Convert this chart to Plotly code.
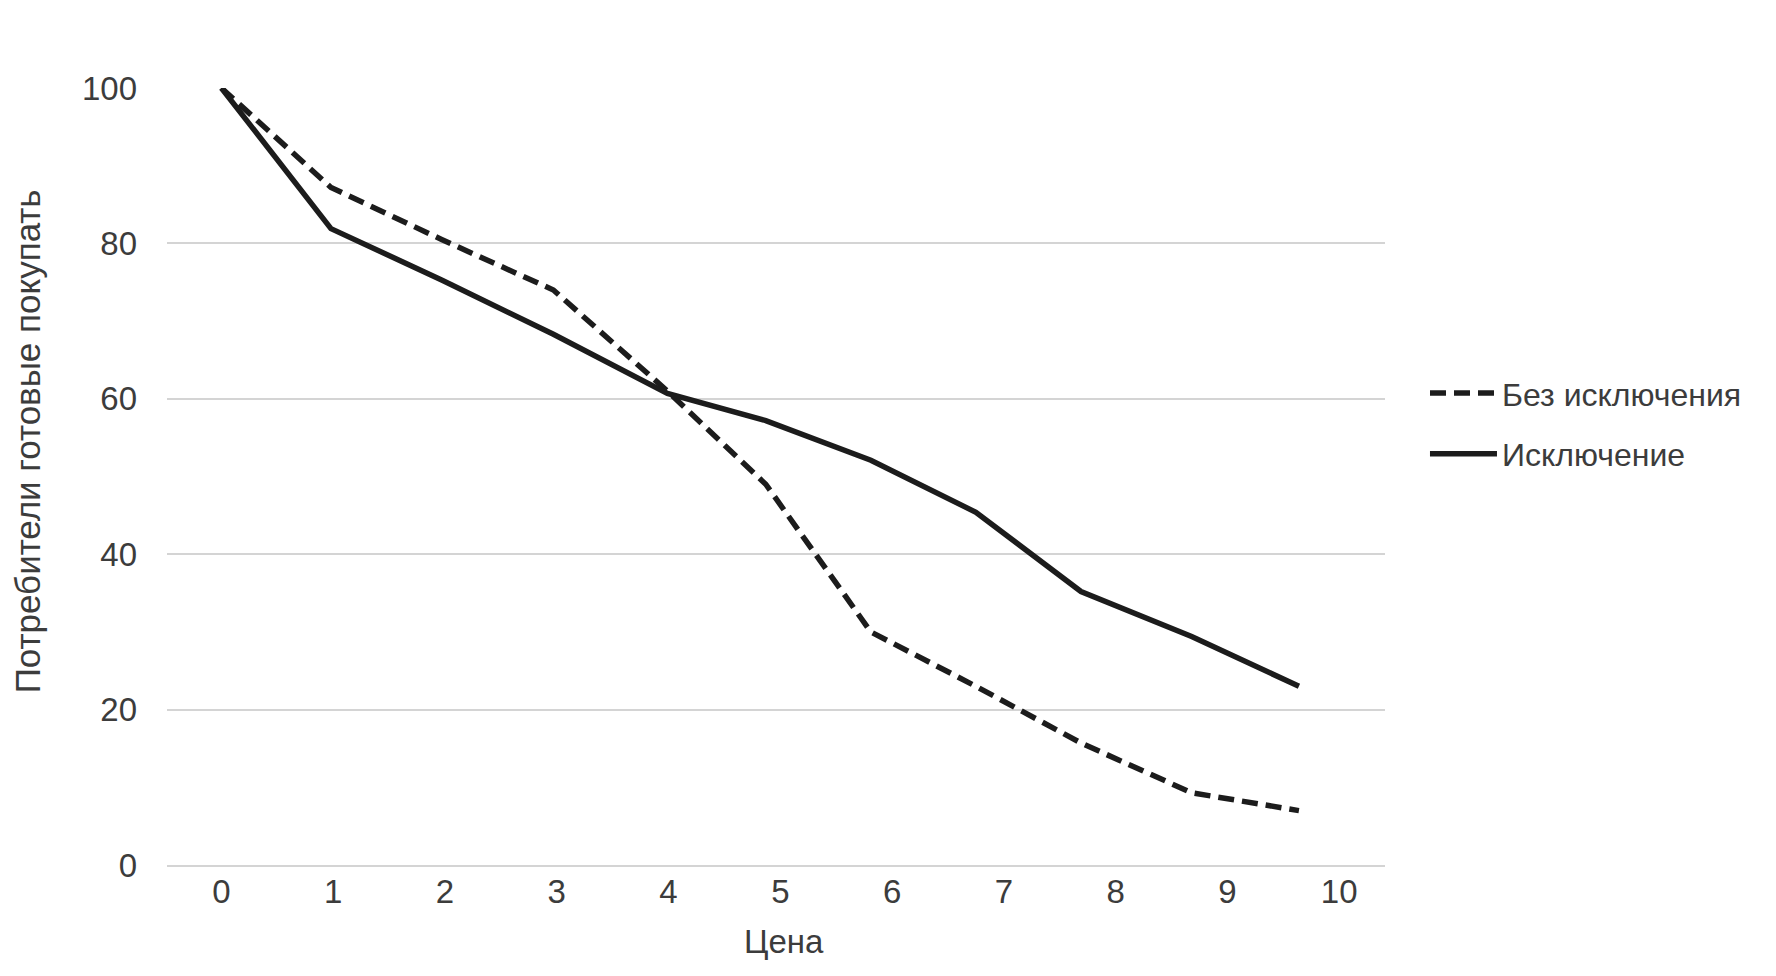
import plotly.graph_objects as go

# Data
price = [0, 0.98, 1.97, 2.97, 3.99, 4.87, 5.81, 6.75, 7.69, 8.68, 9.64]
bez_iskl = [100, 87.2, 80.5, 74.0, 61.0, 49.0, 30.0, 23.0, 15.7, 9.3, 7.0]
iskl = [100, 81.9, 75.3, 68.3, 60.7, 57.2, 52.1, 45.4, 35.2, 29.4, 23.0]
x_ticks = list(range(0, 11))
y_ticks = [0, 20, 40, 60, 80, 100]

series_names = ["Без исключения", "Исключение"]
x_title = "Цена"
y_title = "Потребители готовые покупать"

FONT = "Liberation Sans, Arial, sans-serif"
TXT = "#3c3c3c"
LINE = "#1c1c1c"

OFF = 8  # default page body margin
W, H = 1776 - OFF, 976 - OFF
L, R, T, B = 166.5 - OFF, 1385 - OFF, 87.5 - OFF, 865 - OFF

fig = go.Figure()
fig.add_trace(go.Scatter(
    x=price, y=bez_iskl, mode="lines", name=series_names[0],
    legendgroup="a",
    line=dict(color=LINE, width=5.5, dash="16px,8px"),
))
fig.add_trace(go.Scatter(
    x=price, y=iskl, mode="lines", name=series_names[1],
    legendgroup="b",
    line=dict(color=LINE, width=5.5),
))

def px_x(p):
    return (p - OFF - L) / (R - L)

def px_y(p):
    return (B - (p - OFF)) / (B - T)

fig.update_layout(
    width=W, height=H,
    margin=dict(l=L, r=W - R, t=T, b=H - B, pad=0),
    paper_bgcolor="white", plot_bgcolor="white",
    font=dict(family=FONT, size=32, color=TXT),
    showlegend=True,
    legend=dict(
        x=px_x(1425), y=px_y(423.5), xanchor="left", yanchor="middle",
        font=dict(family=FONT, size=32, color=TXT),
        itemwidth=67, tracegroupgap=16, traceorder="grouped",
        bgcolor="rgba(0,0,0,0)",
    ),
    xaxis=dict(
        range=[-0.487, 10.41], tickmode="array", tickvals=x_ticks,
        ticktext=[str(v) for v in x_ticks],
        showgrid=False, zeroline=False, showline=True,
        linecolor="#d4d4d4", linewidth=2, ticks="",
        tickfont=dict(family=FONT, size=33, color=TXT),
        ticklabelstandoff=-4,
    ),
    yaxis=dict(
        range=[0, 100], tickmode="array", tickvals=y_ticks,
        showgrid=True, gridcolor="#d4d4d4", gridwidth=2,
        zeroline=False, showline=False, ticks="",
        tickfont=dict(family=FONT, size=33, color=TXT),
        ticklabelstandoff=29,
    ),
    annotations=[
        dict(text=y_title, xref="paper", yref="paper",
             x=px_x(27), y=px_y(441.5), xanchor="center", yanchor="middle",
             textangle=-90, showarrow=False,
             font=dict(family=FONT, size=35, color=TXT)),
        dict(text=x_title, xref="paper", yref="paper",
             x=px_x(784), y=px_y(942), xanchor="center", yanchor="middle",
             showarrow=False,
             font=dict(family=FONT, size=33, color=TXT)),
    ],
)

fig.write_html("out.html")
